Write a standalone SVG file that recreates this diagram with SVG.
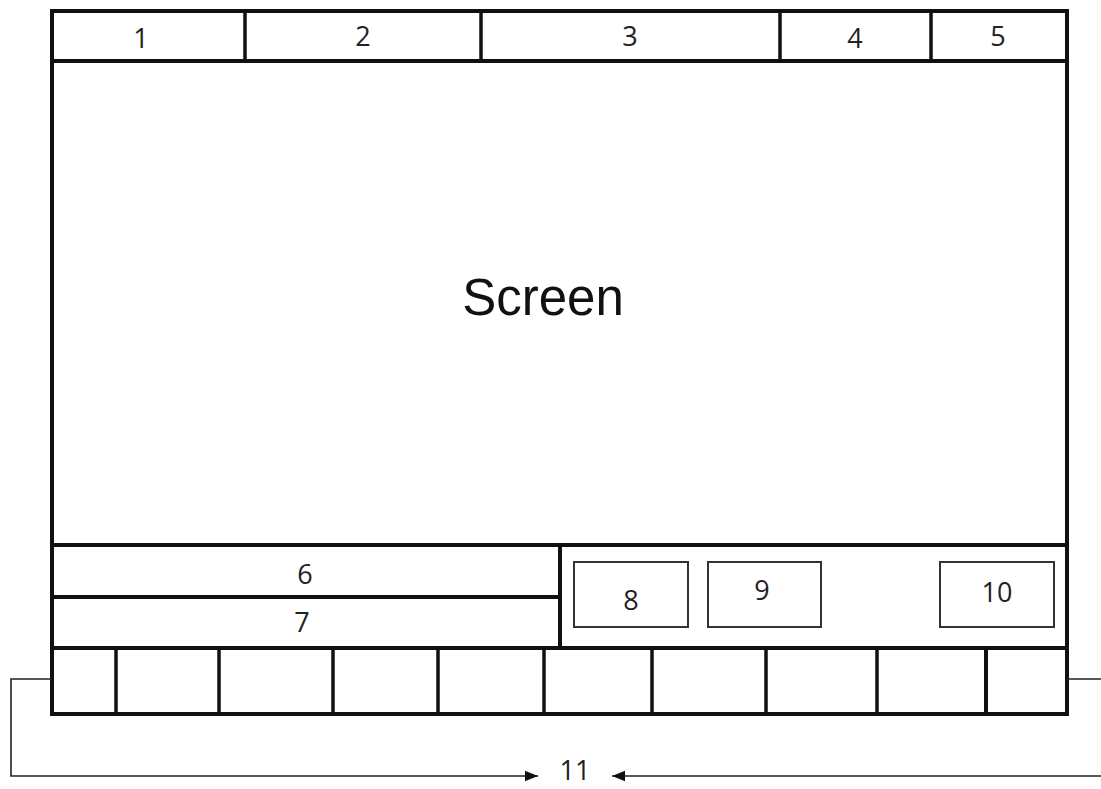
<svg xmlns="http://www.w3.org/2000/svg" width="1101" height="789" viewBox="0 0 1101 789">
<style>
.thick{fill:none;stroke:#111;stroke-width:4}
.mid{fill:none;stroke:#111;stroke-width:3.5}
.box{fill:none;stroke:#333;stroke-width:2}
.conn{fill:none;stroke:#222;stroke-width:1.6}
.num{font-family:"Open Sans","Liberation Sans",sans-serif;font-size:27px;fill:#222;text-anchor:middle;dominant-baseline:central}
.big{font-family:"Liberation Sans",Arial,sans-serif;font-size:51px;fill:#111;text-anchor:middle;dominant-baseline:central}
</style>
<defs>
<marker id="ah" viewBox="0 0 10 10" refX="10" refY="5" markerWidth="13" markerHeight="13" markerUnits="userSpaceOnUse" orient="auto">
<path d="M0,1 L10,5 L0,9 z" fill="#111"/>
</marker>
</defs>
<rect width="1101" height="789" fill="#fff"/>
<g id="frame">
<rect class="thick" x="52" y="11" width="1015" height="703"/>
</g>
<g id="topbar">
<line class="thick" x1="52" y1="61" x2="1067" y2="61"/>
<line class="mid" x1="245" y1="11" x2="245" y2="61"/>
<line class="mid" x1="481" y1="11" x2="481" y2="61"/>
<line class="mid" x1="780" y1="11" x2="780" y2="61"/>
<line class="mid" x1="931" y1="11" x2="931" y2="61"/>
</g>
<g id="n1"><text class="num" x="141" y="37">1</text></g>
<g id="n2"><text class="num" x="363" y="35">2</text></g>
<g id="n3"><text class="num" x="630" y="35">3</text></g>
<g id="n4"><text class="num" x="855" y="37">4</text></g>
<g id="n5"><text class="num" x="998" y="35">5</text></g>
<g id="screen"><text class="big" x="543" y="297">Screen</text></g>
<g id="lowerpanel">
<line class="thick" x1="52" y1="545" x2="1067" y2="545"/>
<line class="thick" x1="560" y1="545" x2="560" y2="648"/>
<line class="thick" x1="52" y1="597" x2="560" y2="597"/>
<line class="thick" x1="52" y1="648" x2="1067" y2="648"/>
</g>
<g id="n6"><text class="num" x="305" y="573">6</text></g>
<g id="n7"><text class="num" x="302" y="621">7</text></g>
<g id="n8"><rect class="box" x="574" y="562" width="114" height="65"/><text class="num" x="631" y="599">8</text></g>
<g id="n9"><rect class="box" x="708" y="562" width="113" height="65"/><text class="num" x="762" y="589">9</text></g>
<g id="n10"><rect class="box" x="940" y="562" width="114" height="65"/><text class="num" x="997" y="591">10</text></g>
<g id="keys">
<line class="mid" x1="116" y1="648" x2="116" y2="714"/>
<line class="mid" x1="219" y1="648" x2="219" y2="714"/>
<line class="mid" x1="333" y1="648" x2="333" y2="714"/>
<line class="mid" x1="438" y1="648" x2="438" y2="714"/>
<line class="mid" x1="544" y1="648" x2="544" y2="714"/>
<line class="mid" x1="652" y1="648" x2="652" y2="714"/>
<line class="mid" x1="766" y1="648" x2="766" y2="714"/>
<line class="mid" x1="877" y1="648" x2="877" y2="714"/>
<line class="thick" x1="986" y1="648" x2="986" y2="714"/>
</g>
<g id="connectors">
<polyline class="conn" points="52,679 11,679 11,776 538,776" marker-end="url(#ah)"/>
<polyline class="conn" points="1067,679 1103,679 1103,776 612,776" marker-end="url(#ah)"/>
</g>
<g id="n11"><text class="num" x="575" y="769">11</text></g>
</svg>
